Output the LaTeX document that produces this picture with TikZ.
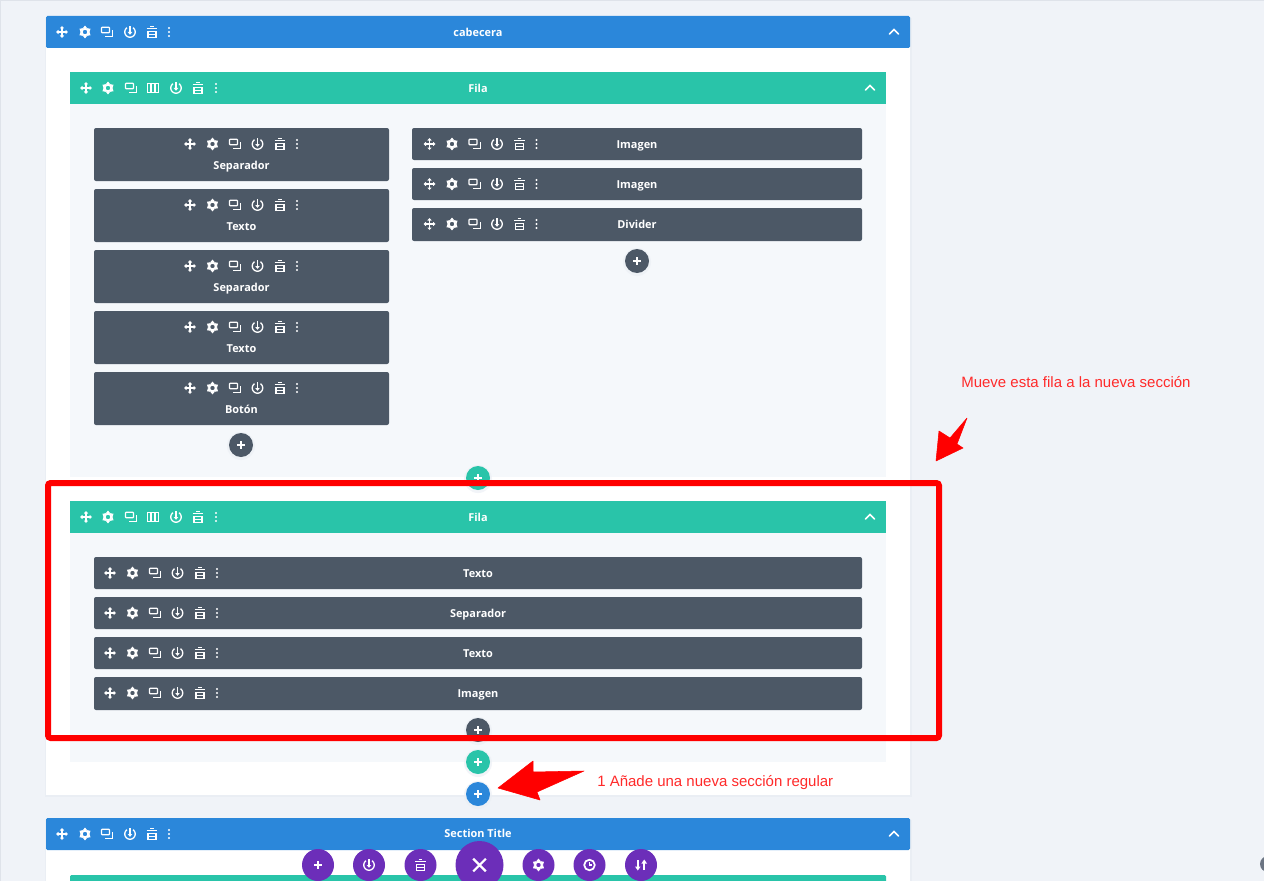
\documentclass[tikz,border=0pt]{standalone}
\usepackage{fontspec}
\setmainfont{Open Sans}
\newfontfamily\annotfont{Liberation Sans}
\definecolor{pagebg}{HTML}{F0F3F8}
\definecolor{edgeline}{HTML}{DFE3EA}
\definecolor{secblue}{HTML}{2B87DA}
\definecolor{rowteal}{HTML}{29C4A9}
\definecolor{rowbody}{HTML}{F5F8FB}
\definecolor{modgray}{HTML}{4C5866}
\definecolor{fabpurple}{HTML}{6C2EB9}
\definecolor{annotred}{HTML}{FF2A2A}
\definecolor{shadowc}{HTML}{EAEEF4}
\definecolor{sidegray}{HTML}{6C7583}
\tikzset{
 ic/.style={draw=white,line width=1pt,fill=none},
 icf/.style={fill=white,draw=none},
 lbl/.style={text=white,font=\bfseries\fontsize{8.2}{10}\selectfont,inner sep=0pt,anchor=base},
 annot/.style={text=annotred,font=\annotfont\fontsize{11.25}{13}\selectfont,inner sep=0pt,anchor=base west},
 redarrow/.style={fill=red,draw=red,line width=.4pt,line join=round},
 modbox/.style={fill=modgray,rounded corners=1.5pt},
 chev/.style={white,line width=1.1pt,line cap=round},
}
\newcommand\icomove{%
 \draw[ic] (-4.5,0)--(4.5,0) (0,-4.5)--(0,4.5);
 \fill[icf] (-6,0)--(-3.5,-2.2)--(-3.5,2.2)--cycle (6,0)--(3.5,-2.2)--(3.5,2.2)--cycle
  (0,-6)--(-2.2,-3.5)--(2.2,-3.5)--cycle (0,6)--(-2.2,3.5)--(2.2,3.5)--cycle;}
\newcommand\icogear{%
 \draw[ic,line width=1.4pt] (0,0) circle (3.3);
 \foreach \a in {0,60,...,300}{\fill[icf,rotate=\a] (-2.4,-3.6)--(2.4,-3.6)--(0,-6.4)--cycle;}}
\newcommand\icodup{%
 \draw[ic,rounded corners=.6pt] (-5.5,-4.8) rectangle (2.5,.8);
 \draw[ic] (5.8,-1.8)--(5.8,4.6)--(-1.8,4.6);}
\newcommand\icocols{%
 \draw[ic] (-5.7,-4.7) rectangle (5.7,4.7) (-1.9,-4.7)--(-1.9,4.7) (1.9,-4.7)--(1.9,4.7);}
\newcommand\icopower{%
 \draw[ic] plot[domain=-55:235,samples=30,smooth] ({5.2*cos(\x)},{5.2*sin(\x)});
 \draw[ic] (0,-5.8)--(0,.5);
 \fill[icf] (-2.3,0)--(2.3,0)--(0,2.8)--cycle;}
\newcommand\icotrash{%
 \draw[ic] (-5.3,-3.4)--(5.3,-3.4);
 \draw[ic] (-1.8,-5.6)--(1.8,-5.6);
 \draw[ic] (-4,-.8) rectangle (4,5.3) (-4,2.2)--(4,2.2);}
\newcommand\icodots{%
 \fill[icf] (0,-4) circle (1.1) (0,0) circle (1.1) (0,4) circle (1.1);}
\newcommand\icoplus{\draw[draw=white,line width=1.4pt] (-4,0)--(4,0) (0,-4)--(0,4);}
\newcommand\icox{\draw[draw=white,line width=1.6pt] (-6.3,-6.3)--(6.3,6.3) (-6.3,6.3)--(6.3,-6.3);}
\newcommand\icoclock{%
 \draw[ic,line width=1.3pt] (0,0) circle (5.3);
 \draw[ic] (0,-2.8)--(0,0)--(2.6,0);}
\newcommand\icosort{%
 \draw[ic,line width=1.3pt] (-3.2,-5)--(-3.2,2) (3.2,5)--(3.2,-2);
 \fill[icf] (-6,1.5)--(-.4,1.5)--(-3.2,5.5)--cycle (.4,-1.5)--(6,-1.5)--(3.2,-5.5)--cycle;}
\newcommand\ico[3]{\begin{scope}[shift={(#1,#2)}]\csname ico#3\endcsname\end{scope}}
\newcommand\sectools[1]{\foreach \px/\pk in {62/move,85/gear,107/dup,130/power,152/trash,169/dots}{\ico{\px}{#1}{\pk}}}
\newcommand\rowtools[1]{\foreach \px/\pk in {86/move,108/gear,131/dup,153/cols,176/power,198/trash,216/dots}{\ico{\px}{#1}{\pk}}}
\newcommand\modtools[2]{\foreach \px/\pk in {0/move,22.5/gear,45/dup,67.5/power,90/trash,107/dots}{\ico{\px+#1}{#2}{\pk}}}
\newcommand\addbtn[5]{%
 \fill[shadowc,opacity=.6] (#2,#3+1) circle (#5+2);
 \node[circle,fill=#4,minimum size=#5*1.5pt,inner sep=0pt] (#1) at (#2,#3) {};
 \ico{#2}{#3}{plus}}
\newcommand\fab[4]{%
 \node[circle,fill=fabpurple,minimum size=#3*1.5pt,inner sep=0pt] (#1) at (#2,865) {};
 \ico{#2}{865}{#4}}
\begin{document}
\begin{tikzpicture}[x=.75pt,y=-.75pt]
\useasboundingbox (0,0) rectangle (1264,881);
\fill[pagebg] (0,0) rectangle (1264,881);
\fill[edgeline] (0,0) rectangle (1264,1);
\fill[edgeline] (0,0) rectangle (1.2,881);
% first section
\fill[shadowc] (44.5,18) rectangle (911.5,796.5);
\fill[white] (46,16) rectangle (910,795);
\fill[secblue,rounded corners=1pt] (46,16) rectangle (910,48);
\sectools{32}
\node[lbl] (sec1) at (478,36.8) {cabecera};
\draw[chev] (889.5,34)--(894,29.5)--(898.5,34);
% row 1
\fill[rowbody] (70,72) rectangle (886,477);
\fill[rowteal] (70,72) rectangle (886,104);
\rowtools{88}
\node[lbl] (row1) at (478,92.6) {Fila};
\draw[chev] (865.5,90)--(870,85.5)--(874.5,90);
% left column
\foreach \yy/\name/\nid in {128/Separador/a,189/Texto/b,250/Separador/c,311/Texto/d,372/Botón/e}{
 \fill[modbox] (94,\yy) rectangle (389,\yy+53);
 \modtools{190}{\yy+16}
 \node[lbl] (left\nid) at (241.5,\yy+41) {\name};
}
% right column
\foreach \yy/\hh/\name/\nid in {128/32/Imagen/a,168/32/Imagen/b,208/33/Divider/c}{
 \fill[modbox] (412,\yy) rectangle (862,\yy+\hh);
 \modtools{429.5}{\yy+16}
 \node[lbl] (right\nid) at (637,\yy+20) {\name};
}
\addbtn{addleft}{241}{445}{modgray}{12}
\addbtn{addright}{637}{261}{modgray}{12}
\addbtn{addrowa}{478}{478}{rowteal}{12}
% row 2
\fill[rowbody] (70,501) rectangle (886,762);
\fill[rowteal] (70,501) rectangle (886,533);
\rowtools{517}
\node[lbl] (row2) at (478,521.4) {Fila};
\draw[chev] (865.5,519)--(870,514.5)--(874.5,519);
\foreach \yy/\hh/\name/\nid in {557/32/Texto/a,597/32/Separador/b,637/32/Texto/c,677/33/Imagen/d}{
 \fill[modbox] (94,\yy) rectangle (862,\yy+\hh);
 \modtools{110}{\yy+16}
 \node[lbl] (wide\nid) at (478,\yy+20) {\name};
}
\addbtn{addwide}{478}{730}{modgray}{12}
\addbtn{addrowb}{478}{762}{rowteal}{12}
\addbtn{addsec}{478}{794}{secblue}{12}
% second section
\fill[shadowc] (44.5,820) rectangle (911.5,881);
\fill[white] (46,818) rectangle (910,881);
\fill[secblue,rounded corners=1pt] (46,818) rectangle (910,850);
\sectools{834}
\node[lbl] (sec2) at (478,837) {Section Title};
\draw[chev] (889.5,836)--(894,831.5)--(898.5,836);
\fill[rowteal,rounded corners=1pt] (70,875) rectangle (886,885);
% floating bar
\fab{fa}{318}{16}{plus}
\fab{fb}{369}{16}{power}
\fab{fc}{420.5}{16}{trash}
\fab{fd}{479.5}{24}{x}
\fab{fe}{538.5}{16}{gear}
\fab{ff}{589.5}{16}{clock}
\fab{fg}{641}{16}{sort}
\node[circle,fill=sidegray,minimum size=12pt,inner sep=0pt] (side) at (1268,864) {};
% annotations
\draw[red,line width=4.5pt,rounded corners=2pt] (48,483) rectangle (939,738);
\fill[redarrow] (498,788)--(533,761)--(533,772)--(584,771)--(537,792)--(540,800)--cycle;
\fill[redarrow] (936,461)--(939,431)--(950,438)--(967,418)--(957,444)--(963,448)--cycle;
\node[annot] (note1) at (597,786) {1 Añade una nueva sección regular};
\node[annot] (note2) at (961,387) {Mueve esta fila a la nueva sección};
\end{tikzpicture}
\end{document}
